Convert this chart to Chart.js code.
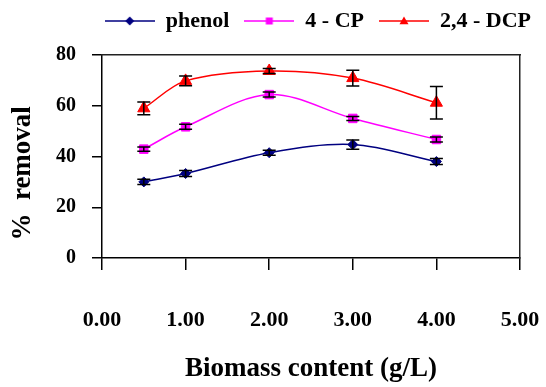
<!DOCTYPE html>
<html>
<head>
<meta charset="utf-8">
<script src="https://cdn.jsdelivr.net/npm/chart.js@4.4.1/dist/chart.umd.min.js"></script>
<style>
  html, body { margin: 0; padding: 0; background: #fff; }
</style>
</head>
<body>
<canvas id="myChart" width="546" height="387"></canvas>
<script>
// data
const biomass = [0.5, 1, 2, 3, 4];
const seriesNames = ['phenol', '4 - CP', '2,4 - DCP'];
const phenol = [30, 33.3, 41.5, 44.7, 38];
const phenolErr = [1, 1.2, 1, 1.8, 1.2];
const cp = [42.9, 51.7, 64.4, 55, 46.7];
const cpErr = [0.8, 1, 1, 0.8, 1];
const dcp = [59, 69.8, 73.7, 70.9, 61.2];
const dcpErr = [2.5, 1.9, 1, 3.1, 6.4];
const xTicks = [0, 1, 2, 3, 4, 5];
const yTicks = [0, 20, 40, 60, 80];

const FONT = "'Liberation Serif', 'Times New Roman', serif";
const colors = ['#000080', '#FF00FF', '#FF0000'];
const styles = ['rectRot', 'rect', 'triangle'];

function shape(g, style, x, y, r) {
  g.beginPath();
  if (style === 'rectRot') {
    g.moveTo(x, y - r); g.lineTo(x + r, y); g.lineTo(x, y + r); g.lineTo(x - r, y);
  } else if (style === 'rect') {
    g.rect(x - r, y - r, 2 * r, 2 * r);
  } else {
    g.moveTo(x, y - r); g.lineTo(x + r, y + r * 0.7); g.lineTo(x - r, y + r * 0.7);
  }
  g.closePath();
  g.fill();
}

function legendIcon(color, style) {
  const c = document.createElement('canvas');
  c.width = 50; c.height = 14;
  const g = c.getContext('2d');
  g.strokeStyle = color;
  g.fillStyle = color;
  g.lineWidth = 1.5;
  g.beginPath(); g.moveTo(0, 7); g.lineTo(50, 7); g.stroke();
  shape(g, style, 25, 7, style === 'rect' ? 3.5 : 4.5);
  return c;
}

const toPoints = vals => vals.map((v, i) => ({x: biomass[i], y: v}));

const errorBars = {
  id: 'errorBars',
  afterDatasetsDraw(chart) {
    const {ctx, scales: {x, y}} = chart;
    ctx.save();
    ctx.strokeStyle = '#000';
    ctx.lineWidth = 1.5;
    chart.data.datasets.forEach(ds => {
      ds.data.forEach((p, i) => {
        const px = x.getPixelForValue(p.x);
        const top = y.getPixelForValue(p.y + ds.errors[i]);
        const bot = y.getPixelForValue(p.y - ds.errors[i]);
        ctx.beginPath();
        ctx.moveTo(px, top); ctx.lineTo(px, bot);
        ctx.moveTo(px - 6.5, top); ctx.lineTo(px + 6.5, top);
        ctx.moveTo(px - 6.5, bot); ctx.lineTo(px + 6.5, bot);
        ctx.stroke();
      });
    });
    ctx.restore();
  }
};

const makeSet = (i, vals, errs, radius) => ({
  label: seriesNames[i],
  data: toPoints(vals),
  errors: errs,
  borderColor: colors[i],
  backgroundColor: colors[i],
  borderWidth: 1.5,
  pointStyle: styles[i],
  pointRadius: radius,
  pointBorderWidth: 1,
  tension: 0.33
});

// extra axes only give the frame its top and right edges
const frameAxis = (pos, size) => ({
  type: 'linear',
  position: pos,
  afterFit: s => { if (pos === 'top') s.height = size; else s.width = size; },
  grid: { display: true, drawOnChartArea: false, drawTicks: false },
  ticks: { display: false },
  border: { display: true, color: '#222', width: 1.5 }
});

new Chart(document.getElementById('myChart'), {
  type: 'line',
  data: {
    datasets: [
      makeSet(0, phenol, phenolErr, 5),
      makeSet(1, cp, cpErr, 6),
      makeSet(2, dcp, dcpErr, 7)
    ]
  },
  options: {
    responsive: false,
    animation: false,
    devicePixelRatio: 1,
    layout: { padding: { top: -5, left: 0, right: 0, bottom: 0 } },
    plugins: {
      tooltip: { enabled: false },
      legend: {
        position: 'top',
        align: 'end',
        labels: {
          usePointStyle: true,
          pointStyleWidth: 50,
          padding: 15,
          color: '#000',
          font: { family: FONT, size: 22, weight: 'bold' },
          generateLabels: chart => chart.data.datasets.map((ds, i) => ({
            text: ds.label,
            pointStyle: legendIcon(colors[i], styles[i]),
            fillStyle: colors[i],
            strokeStyle: colors[i],
            fontColor: '#000',
            hidden: false,
            datasetIndex: i
          }))
        }
      }
    },
    scales: {
      x: {
        type: 'linear',
        position: 'bottom',
        min: xTicks[0],
        max: xTicks[xTicks.length - 1],
        afterBuildTicks: s => { s.ticks = xTicks.map(v => ({value: v})); },
        afterFit: s => { s.height = 129; },
        grid: { drawOnChartArea: false, drawTicks: true, tickLength: 12, color: '#000', lineWidth: 1.5 },
        border: { display: true, color: '#000', width: 1.5 },
        ticks: {
          padding: 0,
          color: '#000',
          font: { family: FONT, size: 22, weight: 'bold', lineHeight: '101px' },
          callback: v => Number(v).toFixed(2)
        },
        title: {
          display: true,
          text: 'Biomass content (g/L)',
          color: '#000',
          font: { family: FONT, size: 27, weight: 'bold' },
          padding: { top: 0, bottom: 2 }
        }
      },
      y: {
        position: 'left',
        min: yTicks[0],
        max: yTicks[yTicks.length - 1],
        afterBuildTicks: s => { s.ticks = yTicks.map(v => ({value: v})); },
        afterFit: s => { s.width = 102; },
        grid: { drawOnChartArea: false, drawTicks: true, tickLength: 10, color: '#000', lineWidth: 1.5 },
        border: { display: true, color: '#000', width: 1.5 },
        ticks: {
          padding: 16,
          color: '#000',
          font: { family: FONT, size: 20, weight: 'bold' }
        },
        title: {
          display: true,
          text: '%  removal     ',
          color: '#000',
          font: { family: FONT, size: 27, weight: 'bold' },
          padding: { top: 7, bottom: 0 }
        }
      },
      x2: frameAxis('top', 13),
      y2: frameAxis('right', 26)
    }
  },
  plugins: [errorBars]
});
</script>
</body>
</html>
